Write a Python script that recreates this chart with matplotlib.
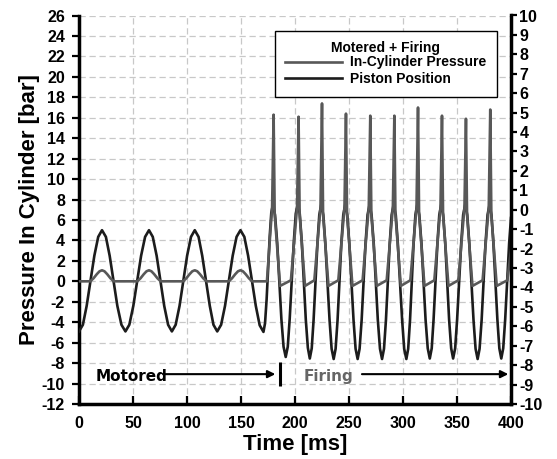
import matplotlib
matplotlib.use('Agg')
import matplotlib.pyplot as plt

# ---------------- data ----------------
x_ticks = [0, 50, 100, 150, 200, 250, 300, 350, 400]
left_ticks = list(range(-12, 27, 2))
right_ticks = list(range(-10, 11, 1))

piston_t = [
    0.0, 3.6, 7.1, 10.7, 14.2, 17.8, 21.3, 24.9, 28.4, 32.0, 35.5, 39.3, 43.0,
    46.6, 50.3, 53.9, 57.5, 61.2, 64.8, 68.3, 71.9, 75.4, 78.9, 82.5, 86.0,
    89.5, 93.1, 96.6, 100.1, 103.7, 107.2, 110.7, 114.1, 117.6, 121.1, 124.5, 128.0,
    131.6, 135.2, 138.8, 142.3, 145.9, 149.5, 153.1, 156.6, 160.2, 163.7, 167.3, 170.8,
    172.25, 173.7, 175.15, 176.6, 178.05, 179.5,
    181.5, 183.5, 185.5, 187.4, 189.4, 191.4,
    193.3, 195.1, 197.0, 198.9, 200.7, 202.6,
    204.4, 206.3, 208.2, 210.0, 211.9, 213.7,
    215.5, 217.2, 219.0, 220.8, 222.5, 224.3,
    226.2, 228.1, 230.1, 232.0, 233.9, 235.8,
    237.6, 239.4, 241.2, 242.9, 244.7, 246.5,
    248.4, 250.3, 252.3, 254.2, 256.1, 258.0,
    259.8, 261.7, 263.5, 265.3, 267.2, 269.0,
    270.9, 272.9, 274.8, 276.7, 278.7, 280.6,
    282.4, 284.2, 286.0, 287.7, 289.5, 291.3,
    293.3, 295.2, 297.2, 299.2, 301.1, 303.1,
    304.8, 306.5, 308.2, 309.8, 311.5, 313.2,
    315.1, 317.1, 319.0, 320.9, 322.9, 324.8,
    326.6, 328.3, 330.1, 331.9, 333.6, 335.4,
    337.2, 339.1, 340.9, 342.7, 344.6, 346.4,
    348.3, 350.1, 352.0, 353.9, 355.7, 357.6,
    359.5, 361.4, 363.4, 365.3, 367.2, 369.1,
    370.9, 372.8, 374.6, 376.4, 378.3, 380.1,
    381.9, 383.7, 385.6, 387.4, 389.2, 391.0,
    392.8, 394.6, 396.5, 398.3, 400.0,
]
piston_v = [
    -4.9, -4.25, -2.4, 0.05, 2.5, 4.35, 5.0, 4.35, 2.5, 0.05, -2.4, -4.25, -4.9,
    -4.25, -2.4, 0.05, 2.5, 4.35, 5.0, 4.35, 2.5, 0.05, -2.4, -4.25, -4.9,
    -4.25, -2.4, 0.05, 2.5, 4.35, 5.0, 4.35, 2.5, 0.05, -2.4, -4.25, -4.9,
    -4.25, -2.4, 0.05, 2.5, 4.35, 5.0, 4.35, 2.5, 0.05, -2.4, -4.3, -4.95,
    -4.1, -1.8, 1.3, 4.4, 6.7, 7.5,
    6.5, 3.8, 0.05, -3.7, -6.4, -7.4,
    -6.4, -3.65, 0.1, 3.85, 6.6, 7.6,
    6.6, 3.8, 0.0, -3.75, -6.5, -7.55,
    -6.55, -3.8, 0.0, 3.75, 6.5, 7.5,
    6.5, 3.7, -0.05, -3.8, -6.6, -7.6,
    -6.6, -3.8, -0.05, 3.7, 6.5, 7.5,
    6.5, 3.7, -0.05, -3.8, -6.6, -7.6,
    -6.6, -3.8, -0.05, 3.7, 6.5, 7.5,
    6.5, 3.7, -0.05, -3.8, -6.6, -7.6,
    -6.6, -3.8, -0.05, 3.7, 6.5, 7.5,
    6.5, 3.7, -0.05, -3.8, -6.6, -7.6,
    -6.6, -3.8, -0.05, 3.7, 6.5, 7.5,
    6.5, 3.7, 0.0, -3.75, -6.55, -7.55,
    -6.55, -3.75, 0.0, 3.75, 6.5, 7.5,
    6.5, 3.75, 0.0, -3.75, -6.55, -7.55,
    -6.55, -3.75, 0.0, 3.75, 6.5, 7.5,
    6.5, 3.7, -0.05, -3.8, -6.6, -7.6,
    -6.6, -3.8, -0.05, 3.7, 6.5, 7.5,
    6.5, 3.75, 0.0, -3.75, -6.55, -7.55,
    -6.55, -3.75, 0.0, 3.75, 6.2,
]

pressure_t = [
    0.0,
    10.5, 13.5, 16.5, 19.0, 21.3, 23.6, 26.1, 29.1, 32.1,
    54.0, 57.0, 60.0, 62.5, 64.8, 67.1, 69.6, 72.6, 75.6,
    96.4, 99.4, 102.4, 104.9, 107.2, 109.5, 112.0, 115.0, 118.0,
    138.7, 141.7, 144.7, 147.2, 149.5, 151.8, 154.3, 157.3, 160.3,
    174.0, 178.8, 180.2, 181.2, 186.2,
    196.2, 201.9, 203.3, 204.3, 209.3,
    217.9, 223.6, 225.0, 226.0, 231.0,
    240.1, 245.8, 247.2, 248.2, 253.2,
    262.6, 268.3, 269.7, 270.7, 275.7,
    284.9, 290.6, 292.0, 293.0, 298.0,
    306.8, 312.5, 313.9, 314.9, 319.9,
    329.0, 334.7, 336.1, 337.1, 342.1,
    351.2, 356.9, 358.3, 359.3, 364.3,
    373.7, 379.4, 380.8, 381.8, 386.8,
    396.6, 400.0,
]
pressure_v = [
    0.0,
    0.0, 0.3, 0.7, 0.98, 1.08, 0.98, 0.7, 0.3, 0.0,
    0.0, 0.3, 0.7, 0.98, 1.08, 0.98, 0.7, 0.3, 0.0,
    0.0, 0.3, 0.7, 0.98, 1.08, 0.98, 0.7, 0.3, 0.0,
    0.0, 0.3, 0.7, 0.98, 1.08, 0.98, 0.7, 0.3, 0.0,
    0.0, 7.2, 16.3, 6.5, -0.45,
    0.1, 7.2, 16.1, 6.5, -0.45,
    0.1, 7.2, 17.4, 6.5, -0.45,
    0.1, 7.2, 16.4, 6.5, -0.45,
    0.1, 7.2, 16.2, 6.5, -0.45,
    0.1, 7.2, 16.2, 6.5, -0.45,
    0.1, 7.2, 17.0, 6.5, -0.45,
    0.1, 7.2, 16.2, 6.5, -0.45,
    0.1, 7.2, 15.9, 6.5, -0.45,
    0.1, 7.2, 16.8, 6.5, -0.45,
    0.1, 3.0,
]

# ---------------- figure ----------------
plt.rcParams['font.family'] = ['Liberation Sans', 'DejaVu Sans']
plt.rcParams['font.weight'] = 'bold'
plt.rcParams['axes.unicode_minus'] = False

fig = plt.figure(figsize=(5.57, 4.59), dpi=100)
L, R, T, B = 79 / 557, 511 / 557, 1 - 15.5 / 459, 1 - 404 / 459
ax = fig.add_axes([L, B, R - L, T - B])

ln_pos, = ax.plot(piston_t, piston_v, color='#1c1c1c', lw=1.9, zorder=3,
                  label='Piston Position')
ln_p, = ax.plot(pressure_t, pressure_v, color='#585858', lw=1.9, zorder=4,
                label='In-Cylinder Pressure')

ax.set_xlim(0, 400)
ax.set_ylim(-12, 26)
ax.set_xticks(x_ticks)
ax.set_yticks(left_ticks)
ax.grid(True, linestyle=(0, (5, 3)), color='#c8c8c8', lw=0.9, zorder=0)

for s in ['left', 'bottom']:
    ax.spines[s].set_linewidth(2.5)
ax.spines['top'].set_visible(False)
ax.spines['right'].set_visible(False)

ax.tick_params(axis='x', direction='in', length=6, width=1.6, pad=9,
               labelsize=11.5)
ax.tick_params(axis='y', direction='out', length=5, width=1.6, pad=5,
               labelsize=11.5)

ax2 = ax.twinx()
ax2.set_ylim(-10, 10)
ax2.set_yticks(right_ticks)
ax2.spines['right'].set_linewidth(2.5)
for s in ['top', 'left', 'bottom']:
    ax2.spines[s].set_visible(False)
ax2.tick_params(axis='y', direction='out', length=4, width=1.6, pad=2,
                labelsize=11.5)

ax.set_xlabel('Time [ms]', fontsize=16, fontweight='bold', labelpad=1.5)
ax.set_ylabel('Pressure In Cylinder [bar]', fontsize=16, fontweight='bold',
              labelpad=1)

leg = ax2.legend(handles=[ln_p, ln_pos], title='Motered + Firing',
                 loc='upper right', bbox_to_anchor=(0.9676, 0.960),
                 frameon=True, fancybox=False, framealpha=1,
                 edgecolor='black', prop={'weight': 'bold', 'size': 10},
                 title_fontproperties={'weight': 'bold', 'size': 10},
                 handlelength=4.1, handletextpad=0.6, labelspacing=0.2,
                 borderpad=0.75, borderaxespad=0)
leg.get_frame().set_linewidth(1.0)
leg._legend_box.sep = 0

# annotations
ax.text(15.1, -9.27, 'Motored', fontfamily='DejaVu Sans', fontweight='bold',
        fontsize=11, va='center', ha='left', color='black', zorder=5)
ax.annotate('', xy=(181.8, -9.08), xytext=(78, -9.08),
            arrowprops=dict(arrowstyle='-|>', color='black', lw=1.5,
                            mutation_scale=11, shrinkA=0, shrinkB=0))
ax.vlines(186.4, -10.25, -7.87, color='black', lw=2.2, zorder=5)
ax.text(207.7, -9.27, 'Firing', fontfamily='DejaVu Sans', fontweight='bold',
        fontsize=11, va='center', ha='left', color='#666666', zorder=5)
ax.annotate('', xy=(397.5, -9.08), xytext=(262, -9.08),
            arrowprops=dict(arrowstyle='-|>', color='black', lw=1.5,
                            mutation_scale=11, shrinkA=0, shrinkB=0))

fig.savefig('out.png', dpi=100)
